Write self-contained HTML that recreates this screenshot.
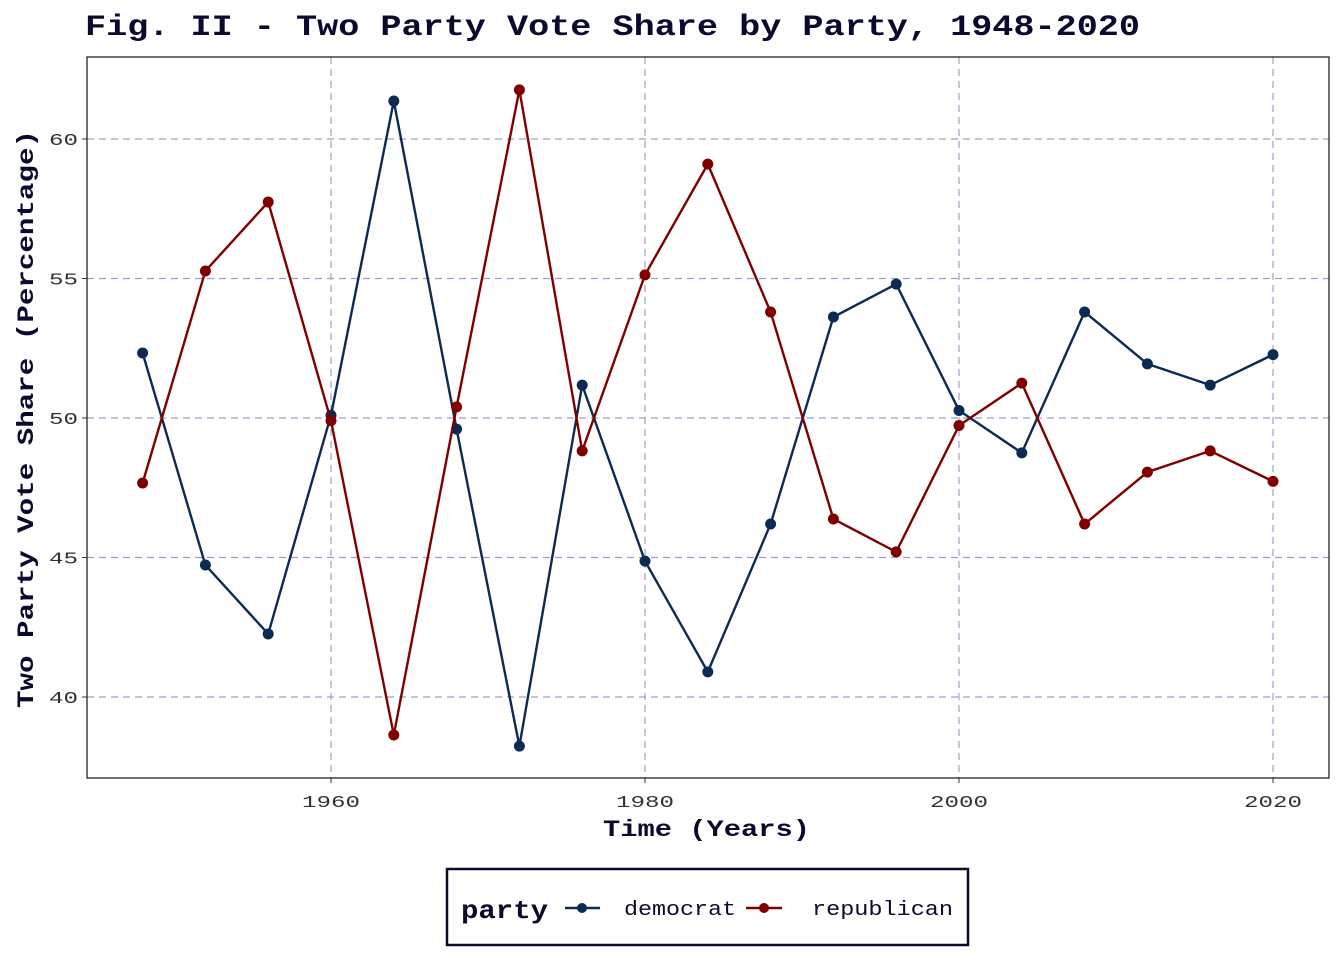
<!DOCTYPE html>
<html><head><meta charset="utf-8"><style>
body{margin:0;background:#fff;}
svg{display:block;font-family:"Liberation Mono",monospace;}
</style></head><body>
<svg id="chart" width="1344" height="960" viewBox="0 0 1344 960">
<text x="85" y="35" font-size="30" font-weight="bold" fill="#0a0a2e" textLength="1055" lengthAdjust="spacingAndGlyphs">Fig. II - Two Party Vote Share by Party, 1948-2020</text>
<g id="grid"></g>
<rect x="87" y="57" width="1242" height="721" fill="none" stroke="#111" stroke-width="1.2"/>
<g id="ticks"></g>
<g id="series"></g>
<text x="603" y="836" font-size="23" font-weight="bold" fill="#0a0a2e" textLength="207" lengthAdjust="spacingAndGlyphs">Time (Years)</text>
<text transform="translate(33,708) rotate(-90)" font-size="23" font-weight="bold" fill="#0a0a2e" textLength="578" lengthAdjust="spacingAndGlyphs">Two Party Vote Share (Percentage)</text>
<g>
<rect x="447" y="869" width="521" height="76" fill="#fff" stroke="#0a0a2e" stroke-width="2.5"/>
<text x="461" y="918" font-size="26" font-weight="bold" fill="#0a0a2e" textLength="87" lengthAdjust="spacingAndGlyphs">party</text>
<g>
<line x1="565" y1="908" x2="600" y2="908" stroke="#0d2a52" stroke-width="2.5"/><circle cx="582" cy="908" r="5" fill="#0d2a52"/>
<text x="624" y="915" font-size="20" fill="#0a0a2e" textLength="112" lengthAdjust="spacingAndGlyphs">democrat</text></g>
<g>
<line x1="746" y1="908" x2="782" y2="908" stroke="#800000" stroke-width="2.5"/><circle cx="764" cy="908" r="5" fill="#800000"/>
<text x="812" y="915" font-size="20" fill="#0a0a2e" textLength="141" lengthAdjust="spacingAndGlyphs">republican</text></g>
</g>
</svg>
<script>
const years=[1948,1952,1956,1960,1964,1968,1972,1976,1980,1984,1988,1992,1996,2000,2004,2008,2012,2016,2020];
const democrat=[52.33,44.73,42.26,50.1,61.36,49.6,38.24,51.18,44.87,40.9,46.2,53.62,54.8,50.27,48.75,53.8,51.94,51.18,52.27];
const republican=[47.67,55.27,57.74,49.9,38.64,50.4,61.76,48.82,55.13,59.1,53.8,46.38,45.2,49.73,51.25,46.2,48.06,48.82,47.73];
const xTicks=[1960,1980,2000,2020];
const yTicks=[40,45,50,55,60];
const NS="http://www.w3.org/2000/svg";
function xs(v){return 331+(v-1960)*15.7;}
function ys(v){return 418-(v-50)*27.9;}
function mk(tag,attrs,parent){const e=document.createElementNS(NS,tag);for(const k in attrs)e.setAttribute(k,attrs[k]);parent.appendChild(e);return e;}
const grid=document.getElementById('grid'),ticks=document.getElementById('ticks'),series=document.getElementById('series');
xTicks.forEach(t=>{
 const l=mk('line',{x1:xs(t),x2:xs(t),y1:57,y2:778,stroke:'#a49ccc','stroke-dasharray':'7,5','stroke-width':1.2},grid);
 
 
 mk('line',{x1:xs(t),x2:xs(t),y1:778,y2:783,stroke:'#333'},ticks);
 const tx=mk('text',{x:xs(t)-29,y:807,'font-size':17,fill:'#333',textLength:58,lengthAdjust:'spacingAndGlyphs'},ticks);tx.textContent=t;
 
 
});
yTicks.forEach(t=>{
 const l=mk('line',{x1:87,x2:1329,y1:ys(t),y2:ys(t),stroke:'#a49ccc','stroke-dasharray':'7,5','stroke-width':1.2},grid);
 
 
 mk('line',{x1:82,x2:87,y1:ys(t),y2:ys(t),stroke:'#333'},ticks);
 const tx=mk('text',{x:49,y:ys(t)+6,'font-size':17,fill:'#333',textLength:29,lengthAdjust:'spacingAndGlyphs'},ticks);tx.textContent=t;
 
 
});
[[democrat,'#0d2a52','democrat'],[republican,'#800000','republican']].forEach(([d,c,n])=>{
 const p=mk('polyline',{points:d.map((v,i)=>xs(years[i])+','+ys(v)).join(' '),fill:'none',stroke:c,'stroke-width':2.4},series);
 
 
 d.forEach((v,i)=>{
  const ci=mk('circle',{cx:xs(years[i]),cy:ys(v),r:5.5,fill:c},series);
  
  
 });
});
</script>
</body></html>
